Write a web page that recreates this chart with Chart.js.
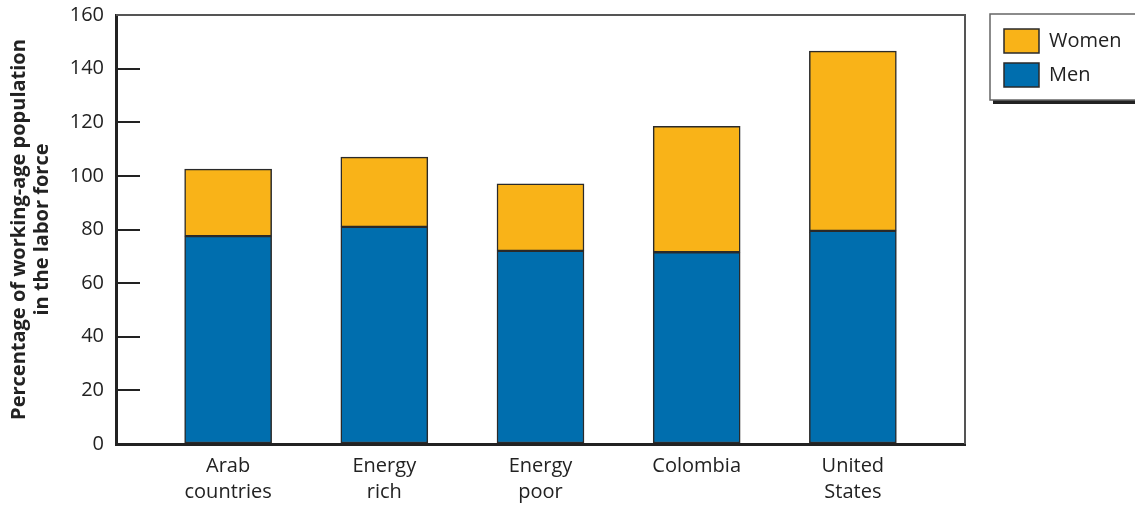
<!DOCTYPE html>
<html>
<head>
<meta charset="utf-8">
<script src="https://cdn.jsdelivr.net/npm/chart.js@4"></script>
<style>
  body { margin: 0; background: #fff; }
  #wrap { width: 1135px; height: 506px; }
</style>
</head>
<body>
<div id="wrap"><canvas id="laborChart" width="1135" height="506"></canvas></div>
<script>
const categories = [['Arab', 'countries'], ['Energy', 'rich'], ['Energy', 'poor'], 'Colombia', ['United', 'States']];
const menValues = [77.5, 81, 72, 71.5, 79.5];
const womenValues = [25, 26, 25, 47, 67];
const yTicks = { min: 0, max: 160, step: 20 };

const FONT = "'Open Sans', 'Noto Sans', sans-serif";
const INK = '#222';

// legend is a bit wider than its items and sits in a framed box
const legendBox = {
  id: 'legendBox',
  beforeLayout(chart) {
    const legend = chart.legend;
    if (legend && !legend._wide) {
      const fit = legend.fit;
      legend.fit = function () {
        fit.call(this);
        this.width = 170;
      };
      legend._wide = true;
    }
  },
  afterLayout(chart) {
    const legend = chart.legend;
    legend.left += 29;
    legend.right += 29;
    legend.top += 4;
    legend.bottom += 4;
  },
  afterDraw(chart) {
    const { ctx, legend, chartArea } = chart;
    ctx.save();
    // plot frame, top and right
    ctx.strokeStyle = '#555';
    ctx.lineWidth = 2;
    ctx.beginPath();
    ctx.moveTo(chartArea.left, chartArea.top);
    ctx.lineTo(chartArea.right, chartArea.top);
    ctx.lineTo(chartArea.right, chartArea.bottom);
    ctx.stroke();
    // legend frame with drop shadow
    const x0 = legend.left - 4, y0 = legend.top - 5, y1 = legend.top + 81;
    ctx.fillStyle = '#222';
    ctx.fillRect(x0 + 3, y1, 300, 4);
    ctx.strokeStyle = '#666';
    ctx.lineWidth = 1.5;
    ctx.strokeRect(x0, y0, 300, y1 - y0);
    ctx.restore();
  }
};

const idx = menValues.map((_, i) => i);

new Chart(document.getElementById('laborChart'), {
  type: 'bar',
  data: {
    datasets: [{
      label: 'Men',
      data: idx.map(i => ({ x: i, y: menValues[i] })),
      backgroundColor: '#006eae',
      borderColor: '#2a2a2a',
      borderWidth: 1.5,
      borderSkipped: false,
      barThickness: 87
    }, {
      label: 'Women',
      data: idx.map(i => ({ x: i, y: womenValues[i] })),
      backgroundColor: '#f9b318',
      borderColor: '#2a2a2a',
      borderWidth: 1.5,
      borderSkipped: false,
      barThickness: 87
    }]
  },
  options: {
    responsive: false,
    animation: false,
    devicePixelRatio: 1,
    layout: { padding: { top: 15, left: 0, right: 0, bottom: 0 } },
    scales: {
      x: {
        type: 'linear',
        stacked: true,
        offset: false,
        min: -0.718,
        max: categories.length - 1 + 0.718,
        afterFit(scale) { scale.height = 62; },
        grid: { display: true, offset: false, drawOnChartArea: false, drawTicks: false },
        border: { display: true, color: INK, width: 3 },
        ticks: {
          stepSize: 1,
          includeBounds: false,
          autoSkip: false,
          maxRotation: 0,
          padding: 9,
          color: INK,
          font: { family: FONT, size: 20, lineHeight: 1.3 },
          callback: v => Number.isInteger(v) ? categories[v] : ''
        }
      },
      y: {
        stacked: true,
        min: yTicks.min,
        max: yTicks.max,
        afterFit(scale) {
          scale.width = 116;
          scale.paddingTop = 12;
          scale.paddingBottom = 12;
        },
        grid: { drawOnChartArea: false, drawTicks: true, tickLength: -24, color: INK, lineWidth: 2 },
        border: { display: true, color: INK, width: 3 },
        ticks: {
          stepSize: yTicks.step,
          padding: 36,
          color: INK,
          font: { family: FONT, size: 20 }
        },
        title: {
          display: true,
          text: ['Percentage of working-age population', 'in the labor force'],
          color: INK,
          font: { family: FONT, size: 20, weight: 'bold', lineHeight: 1.15 },
          padding: { top: 8, bottom: 0 }
        }
      }
    },
    plugins: {
      legend: {
        position: 'right',
        align: 'start',
        reverse: true,
        labels: {
          boxWidth: 35,
          boxHeight: 24,
          padding: 10,
          color: INK,
          font: { family: FONT, size: 20 }
        }
      },
      tooltip: { enabled: false }
    }
  },
  plugins: [legendBox]
});
</script>
</body>
</html>
